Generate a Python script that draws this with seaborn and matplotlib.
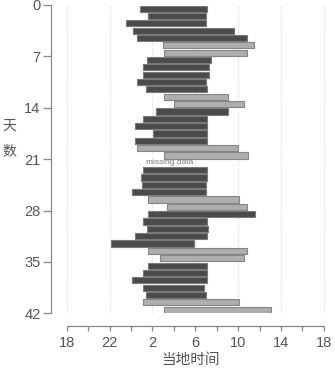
import matplotlib
matplotlib.use("Agg")
import matplotlib.pyplot as plt
import seaborn as sns
import pandas as pd

# ---- data (clock hours) ----
day = list(range(0, 21)) + list(range(22, 42))
bed = [0.84, 1.55, 23.53, 0.16, 0.53, 3.01, 3.10, 1.46, 1.15, 1.15, 0.53, 1.37, 3.10, 4.04,
       2.30, 1.15, 0.37, 2.08, 0.37, 0.53, 3.10,
       1.15, 0.90, 1.00, 0.06, 1.61, 3.38, 1.61, 1.15, 1.46, 0.37, 22.13, 1.55, 2.70,
       1.61, 1.15, 0.06, 1.15, 1.40, 1.15, 3.10]
wake = [7.06, 7.00, 7.00, 9.60, 10.80, 11.47, 10.80, 7.46, 7.30, 7.30, 7.00, 7.06, 9.07, 10.57,
        9.07, 7.06, 7.06, 7.06, 7.06, 10.00, 10.94,
        7.12, 7.06, 7.00, 7.00, 10.07, 10.80, 11.56, 7.06, 7.21, 7.06, 5.87, 10.80, 10.57,
        7.06, 7.12, 7.06, 6.84, 6.97, 10.10, 13.06]
kind = list("DDDDDLLDDDDDLLDDDDDLL" + "DDDDLLDDDDDLLDDDDDLL")
xtick_labels = ["18", "22", "2", "6", "10", "14", "18"]
ytick_labels = ["0", "7", "14", "21", "28", "35", "42"]

df = pd.DataFrame({"day": day, "bed": bed, "wake": wake, "kind": kind})
df["start"] = (df["bed"] - 18) % 24
df["end"] = (df["wake"] - 18) % 24

sns.set_theme(style="white")
plt.rcParams["font.family"] = ["Liberation Sans", "Noto Sans CJK SC", "DejaVu Sans"]

fig = plt.figure(figsize=(3.35, 3.70), dpi=100)
ax = fig.add_axes([51 / 335, 1 - 313.3 / 370, (329.3 - 51) / 335, (313.3 - 5) / 370])

colors = {"D": "#4a4a4a", "L": "#aeaeae"}
edges = {"D": "#7a7a7a", "L": "#858585"}
for k in ["D", "L"]:
    sub = df[df["kind"] == k]
    ax.barh(sub["day"] + 0.5, sub["end"] - sub["start"], left=sub["start"], height=0.84,
            color=colors[k], edgecolor=edges[k], linewidth=0.8, zorder=3)

ax.text((3.64 - 18) % 24, 21.45, "missing data", fontsize=6, color="#777777",
        ha="center", va="center", zorder=4)

ax.set_xlim(-1.46, 24.5)
ax.set_ylim(42, 0)
ax.set_xticks([0, 4, 8, 12, 16, 20, 24])
ax.set_xticklabels(xtick_labels)
ax.set_xticks([2, 6, 10, 14, 18, 22], minor=True)
ax.set_yticks([0, 7, 14, 21, 28, 35, 42])
ax.set_yticklabels(ytick_labels)

for x in [0, 4, 8, 12, 16, 20, 24]:
    ax.axvline(x, color="#d9d9d9", lw=0.8, ls=(0, (1, 1.5)), zorder=1)

for s in ["top", "right"]:
    ax.spines[s].set_visible(False)
ax.spines["left"].set_bounds(0, 42)
ax.spines["bottom"].set_bounds(0, 24)
ax.spines["bottom"].set_position(("outward", 9))
for s in ["left", "bottom"]:
    ax.spines[s].set_color("#888888")
    ax.spines[s].set_linewidth(0.9)

ax.tick_params(axis="y", which="major", left=True, length=5.5, width=0.9, color="#888888",
               labelsize=10.5, labelcolor="#555555", pad=2)
ax.tick_params(axis="x", which="both", bottom=True, length=3.5, width=0.9, color="#888888",
               labelsize=10.5, labelcolor="#555555", pad=4)

ax.set_xlabel("当地时间", fontsize=10.5, color="#555555", labelpad=2)
fig.text(0.027, 0.626, "天\n\n数", fontsize=10, color="#555555", ha="center", va="center",
         linespacing=0.9)

fig.savefig("out.png", dpi=100)
